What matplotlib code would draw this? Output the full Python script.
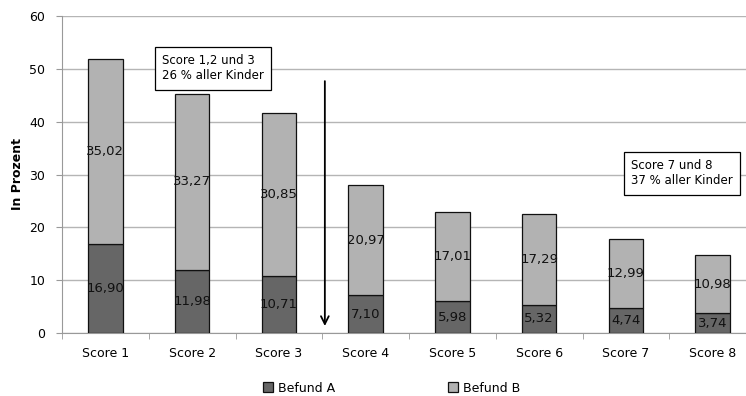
import matplotlib
matplotlib.use("Agg")
import matplotlib.pyplot as plt
import numpy as np

categories = ["Score 1", "Score 2", "Score 3", "Score 4", "Score 5", "Score 6", "Score 7", "Score 8"]
befund_a = [16.90, 11.98, 10.71, 7.10, 5.98, 5.32, 4.74, 3.74]
befund_b = [35.02, 33.27, 30.85, 20.97, 17.01, 17.29, 12.99, 10.98]
series_names = ["Befund A", "Befund B"]
yticks = [0, 10, 20, 30, 40, 50, 60]

plt.rcParams["font.family"] = ["DejaVu Sans"]

fig = plt.figure(figsize=(7.46, 3.96), dpi=100)
ax = fig.add_axes([62 / 746, 1 - 333 / 396, 694 / 746, 317 / 396])

x = np.arange(len(categories))
w = 0.40
col_a = "#666666"
col_b = "#b2b2b2"
bars_a = ax.bar(x, befund_a, width=w, color=col_a, edgecolor="#111111", linewidth=0.9, label=series_names[0], zorder=3)
bars_b = ax.bar(x, befund_b, width=w, bottom=befund_a, color=col_b, edgecolor="#111111", linewidth=0.9, label=series_names[1], zorder=3)

def fmt(v):
    return f"{v:.2f}".replace(".", ",")

for i in range(len(categories)):
    ax.text(x[i], befund_a[i] / 2, fmt(befund_a[i]), ha="center", va="center", fontsize=9.5, color="#111111", zorder=4)
    ax.text(x[i], befund_a[i] + befund_b[i] / 2, fmt(befund_b[i]), ha="center", va="center", fontsize=9.5, color="#111111", zorder=4)

ax.set_xlim(-0.5, len(categories) - 0.5)
ax.set_ylim(0, 60)
ax.set_yticks(yticks)
ax.set_yticklabels([str(t) for t in yticks], fontsize=9)
ax.set_xticks(x)
ax.set_xticklabels(categories, fontsize=9)
ax.set_xticks(np.arange(len(categories) + 1) - 0.5, minor=True)
ax.tick_params(axis="x", which="major", length=0, pad=10)
ax.tick_params(axis="x", which="minor", length=4, color="#999999", direction="out")
ax.tick_params(axis="y", length=4, color="#999999", pad=8)

ax.grid(axis="y", color="#b5b5b5", linewidth=1.0, zorder=0)
for side in ["top", "right"]:
    ax.spines[side].set_visible(False)
ax.spines["left"].set_color("#999999")
ax.spines["bottom"].set_color("#999999")

ax.set_ylabel("In Prozent", fontsize=9, fontweight="bold", labelpad=4)

# Vertical arrow separating the score groups
ax.annotate("", xy=(2.53, 0.8), xytext=(2.53, 48.2),
            arrowprops=dict(arrowstyle="->", color="black", lw=1.3, mutation_scale=14), zorder=5)

box_style = dict(boxstyle="square,pad=0.62", facecolor="white", edgecolor="black", linewidth=0.9)
ax.text(0.655, 50.1, "Score 1,2 und 3\n26 % aller Kinder", fontsize=8.5, ha="left", va="center",
        linespacing=1.2, zorder=6, bbox=box_style)
ax.text(6.06, 30.2, "Score 7 und 8\n37 % aller Kinder", fontsize=8.5, ha="left", va="center",
        linespacing=1.2, zorder=6, bbox=box_style)

fig.legend(handles=[bars_a, bars_b], labels=series_names, loc="center", bbox_to_anchor=(0.525, 1 - 388 / 396),
           ncol=2, frameon=False, fontsize=9, handlelength=0.8, handleheight=0.8, columnspacing=9.0,
           handletextpad=0.4)

fig.savefig("out.png", dpi=100)
